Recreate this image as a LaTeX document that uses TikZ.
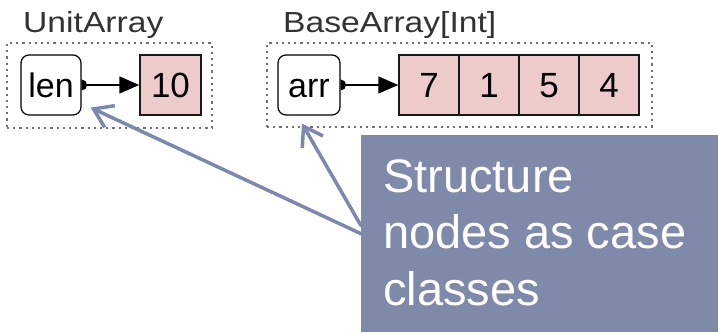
\documentclass[tikz,border=0pt]{standalone}
\usepackage{fontspec}
\setmainfont{Liberation Sans}
\usetikzlibrary{arrows.meta}

\definecolor{cellpink}{HTML}{EDCBCB}
\definecolor{noteblue}{HTML}{7F89AA}
\definecolor{pointerblue}{HTML}{7D88B0}
\definecolor{labelgray}{HTML}{333333}
\definecolor{groupgray}{HTML}{707070}

\tikzset{
  fieldbox/.style={draw=black, line width=1.2pt, rounded corners=8pt, fill=white,
    minimum height=60pt, inner sep=0pt, text height=25pt, text depth=0pt,
    font=\fontsize{34}{34}\selectfont},
  cellbox/.style={draw=black!90, line width=1.5pt, fill=cellpink,
    minimum width=60pt, minimum height=60pt, inner sep=0pt,
    text height=25pt, text depth=0pt, font=\fontsize{35}{35}\selectfont},
  groupbox/.style={draw=groupgray, line width=1.5pt, dash pattern=on 2.2pt off 4pt,
    inner sep=0pt},
  grouplabel/.style={anchor=base west, inner sep=0pt, text=labelgray,
    font=\fontsize{29}{29}\selectfont},
  refarrow/.style={line width=1.6pt, -{Triangle[length=20pt,width=17pt]}},
  notebox/.style={fill=noteblue, draw=none, anchor=north west, inner sep=0pt,
    minimum width=357pt, minimum height=197pt},
  notetext/.style={anchor=north west, inner sep=0pt, text=white, align=left,
    font=\fontsize{47}{56.5}\selectfont},
  pointer/.style={draw=pointerblue, line width=3.5pt, line cap=round,
    -{Straight Barb[length=18pt,width=24pt,line width=3.5pt]}}
}

\begin{document}
\begin{tikzpicture}[x=1pt,y=1pt]
  \useasboundingbox (0,0) rectangle (718,-334);
  \fill[white] (0,0) rectangle (718,-334);

  % UnitArray: a single length field pointing to its value
  \node[groupbox, minimum width=205pt, minimum height=85pt] (unitgroup) at (109.5,-85.5) {};
  \node[grouplabel] (unitlabel) at (23,-33) {\scalebox{1.16}[1]{UnitArray}};
  \node[fieldbox, minimum width=60pt] (len) at (51,-85) {len};
  \node[cellbox, minimum width=61pt] (ten) at (170.5,-85) {10};

  % BaseArray[Int]: an array field pointing to four cells
  \node[groupbox, minimum width=385pt, minimum height=84pt] (basegroup) at (459.5,-85) {};
  \node[grouplabel] (baselabel) at (283,-33) {\scalebox{1.16}[1]{BaseArray[Int]}};
  \node[fieldbox, minimum width=62pt] (arr) at (309,-85) {arr};
  \node[cellbox] (c1) at (429,-85) {7};
  \node[cellbox] (c2) at (489,-85) {1};
  \node[cellbox] (c3) at (549,-85) {5};
  \node[cellbox] (c4) at (609,-85) {4};

  % references: half-disc at the field, filled triangle at the target
  \foreach \f/\t in {len/ten, arr/c1} {
    \fill (\f.east) ++(0pt,-5.5pt) arc[start angle=-90, end angle=90, radius=5.5pt] -- cycle;
    \draw[refarrow] (\f.east) -- (\t.west);
  }

  % callout note
  \node[notebox] (note) at (361,-135) {};
  \node[notetext] (notetxt) at (383,-159) {Structure\\nodes as case\\classes};

  \draw[pointer] (note.west) -- ([shift={(9pt,8pt)}]len.south east);
  \draw[pointer] ([yshift=8pt]note.west) -- ([shift={(-7pt,-8pt)}]arr.south);
\end{tikzpicture}
\end{document}
